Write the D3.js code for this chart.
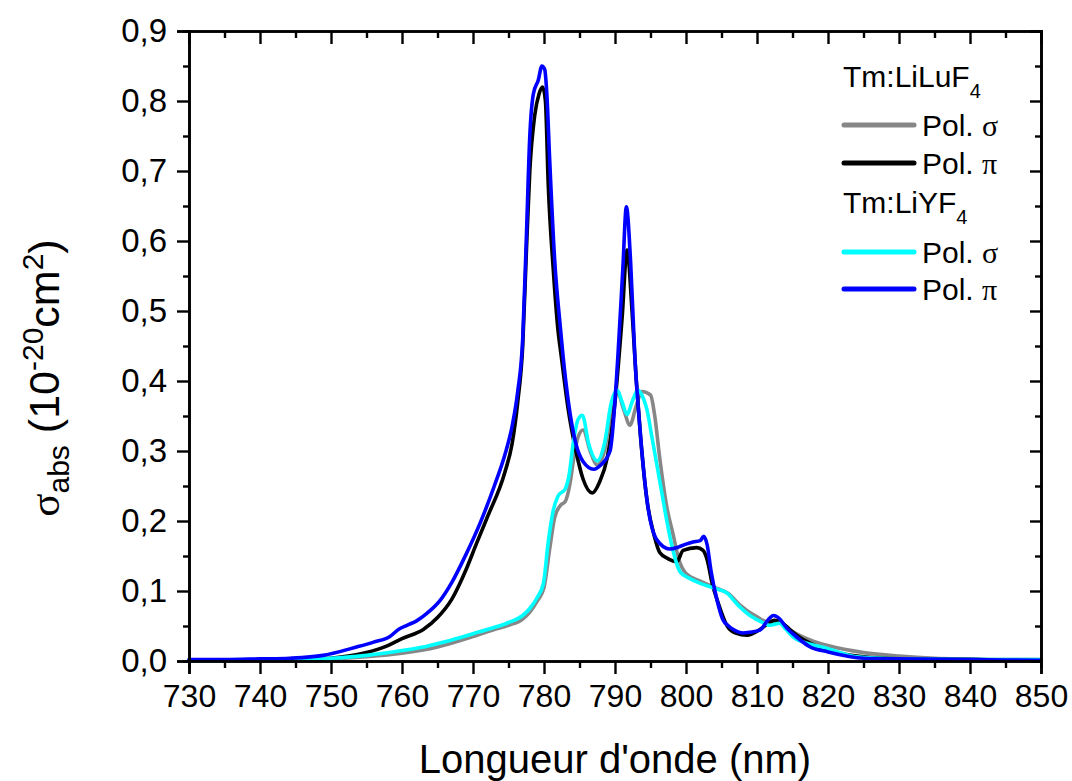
<!DOCTYPE html>
<html><head><meta charset="utf-8">
<script src="https://cdn.jsdelivr.net/npm/d3@7"></script>
<style>
html,body{margin:0;padding:0;background:#fff;}
svg{display:block;font-family:"Liberation Sans",Arial,sans-serif;}
</style></head>
<body><svg id="chart" width="1072" height="781"></svg>
<script>
// ---- data (wavelength nm, cross-section 1e-20 cm2) ----
const luSigma = [[730,0.001],[740,0.001],[750,0.003],[755,0.006],[760,0.011],[765,0.02],[770,0.035],[773,0.045],[775,0.051],[777,0.06],[778,0.07],[779,0.085],[780,0.105],[780.8,0.16],[781.5,0.205],[782.3,0.222],[783,0.228],[783.6,0.25],[784.2,0.29],[784.8,0.32],[785.5,0.33],[786.5,0.30],[787.5,0.28],[788.5,0.30],[789.5,0.36],[790.3,0.385],[791.2,0.36],[792.1,0.337],[793,0.365],[793.8,0.385],[795,0.38],[795.6,0.35],[796.3,0.29],[797.3,0.22],[798.2,0.18],[799,0.145],[800,0.125],[802,0.114],[804,0.105],[806,0.096],[807.6,0.08],[810,0.063],[812,0.054],[813.2,0.055],[815,0.042],[818,0.028],[820,0.022],[825,0.012],[830,0.007],[835,0.004],[840,0.003],[845,0.002],[850,0.002]];
const luPi = [[730,0.001],[740,0.001],[745,0.002],[750,0.004],[755,0.012],[758,0.022],[760,0.032],[763,0.045],[765,0.062],[767,0.088],[769,0.13],[770.5,0.168],[772,0.205],[774.5,0.27],[775.5,0.31],[776.3,0.37],[777,0.45],[777.5,0.58],[778,0.70],[778.7,0.78],[779.3,0.81],[779.8,0.82],[780.2,0.80],[780.6,0.68],[781.3,0.56],[781.9,0.48],[782.5,0.43],[783.4,0.36],[784.5,0.3],[785.5,0.26],[786.8,0.24],[787.8,0.255],[788.9,0.29],[790,0.37],[791,0.49],[791.7,0.587],[792.4,0.5],[793,0.4],[793.6,0.32],[794.5,0.23],[795.5,0.18],[796.3,0.155],[797.5,0.146],[798.7,0.142],[799.6,0.158],[801.5,0.162],[802.4,0.158],[803,0.144],[803.7,0.11],[804.4,0.087],[805.8,0.05],[807,0.04],[808.6,0.037],[810.4,0.045],[811.5,0.053],[812.4,0.058],[813.3,0.056],[814.5,0.046],[816,0.034],[818,0.023],[820,0.015],[825,0.006],[830,0.003],[840,0.002],[850,0.001]];
const yfSigma = [[730,0.001],[740,0.002],[750,0.004],[755,0.008],[760,0.015],[763,0.02],[765,0.025],[768,0.033],[770,0.039],[772.4,0.046],[775,0.055],[777,0.065],[778,0.075],[779,0.09],[779.9,0.11],[780.6,0.17],[781.3,0.215],[782,0.236],[783,0.246],[783.6,0.27],[784.1,0.31],[784.8,0.345],[785.4,0.351],[786.3,0.31],[787.5,0.286],[788.5,0.31],[789.5,0.37],[790.3,0.387],[791,0.37],[791.7,0.352],[792.4,0.37],[793.2,0.387],[794,0.375],[794.5,0.359],[795.2,0.32],[795.9,0.28],[796.6,0.24],[797.3,0.2],[798,0.165],[799.2,0.127],[800.5,0.118],[802,0.111],[804,0.104],[805.8,0.097],[806.7,0.087],[807.6,0.077],[809,0.065],[810,0.059],[811,0.054],[811.8,0.051],[813.2,0.054],[814,0.046],[815.1,0.034],[817.5,0.024],[819.9,0.018],[822,0.011],[824,0.006],[830,0.003],[840,0.002],[850,0.002]];
const yfPi = [[730,0.002],[735,0.002],[740,0.003],[744.2,0.004],[748.9,0.008],[753.6,0.02],[756,0.027],[758.3,0.035],[759.5,0.045],[760.7,0.051],[762,0.057],[763.5,0.068],[765.4,0.087],[767,0.112],[769,0.152],[771,0.197],[773,0.25],[774.5,0.295],[775.5,0.335],[776.3,0.385],[777,0.46],[777.5,0.6],[778,0.75],[778.5,0.81],[779.2,0.83],[779.7,0.85],[780.1,0.845],[780.4,0.81],[780.8,0.716],[781.5,0.573],[782.3,0.477],[782.7,0.434],[783.4,0.373],[784.5,0.31],[785.5,0.285],[787,0.274],[788,0.28],[789.3,0.30],[790.4,0.434],[791.1,0.56],[791.6,0.649],[792.2,0.57],[792.8,0.434],[793.5,0.334],[794.5,0.23],[795.9,0.173],[797.7,0.16],[799,0.163],[800,0.167],[801,0.17],[802,0.172],[802.5,0.178],[803,0.165],[803.5,0.13],[804.3,0.09],[805.2,0.059],[806,0.05],[807,0.043],[808,0.04],[809,0.041],[810.4,0.044],[811.5,0.058],[812.3,0.065],[813,0.062],[814.2,0.047],[815.5,0.035],[817.5,0.02],[820,0.013],[825,0.004],[830,0.003],[840,0.002],[850,0.001]];

const xMajor = [730,740,750,760,770,780,790,800,810,820,830,840,850];
const xMinor = [735,745,755,765,775,785,795,805,815,825,835,845];
const yMajor = [0,0.1,0.2,0.3,0.4,0.5,0.6,0.7,0.8,0.9];
const yMinor = [0.05,0.15,0.25,0.35,0.45,0.55,0.65,0.75,0.85];

const series = [
  {name:"luSigma", data:luSigma, color:"#878787"},
  {name:"luPi", data:luPi, color:"#000000"},
  {name:"yfSigma", data:yfSigma, color:"#00ffff"},
  {name:"yfPi", data:yfPi, color:"#0000ff"}
];

// ---- layout ----
const L=189, R=1041, T=31, B=661;
const svg = d3.select("#chart");
const x = d3.scaleLinear().domain([730,850]).range([L,R]);
const y = d3.scaleLinear().domain([0,0.9]).range([B,T]);
const fmtY = d => d.toFixed(1).replace(".", ",");

// curves
const line = d3.line().x(d=>x(d[0])).y(d=>y(d[1])).curve(d3.curveMonotoneX);
const plot = svg.append("g");
series.forEach(s=>{
  plot.append("path").datum(s.data).attr("d",line)
    .attr("fill","none").attr("stroke",s.color).attr("stroke-width",3.6)
    .attr("stroke-linejoin","round").attr("stroke-linecap","round");
});

function styleAxis(g){
  g.selectAll(".domain").attr("stroke","#000").attr("stroke-width",2.6);
  g.selectAll(".tick line").attr("stroke","#000").attr("stroke-width",2.4);
  g.selectAll("text").attr("fill","#000");
}
// bottom
const gb = svg.append("g").attr("transform",`translate(0,${B})`)
  .call(d3.axisBottom(x).tickValues(xMajor).tickSize(13).tickPadding(10).tickFormat(d3.format("d")));
gb.selectAll("text").attr("font-size",32).attr("font-family","Liberation Sans, Arial");
styleAxis(gb);
const gbm = svg.append("g").attr("transform",`translate(0,${B})`)
  .call(d3.axisBottom(x).tickValues(xMinor).tickSize(7).tickFormat(""));
styleAxis(gbm);
// top
const gt = svg.append("g").attr("transform",`translate(0,${T})`)
  .call(d3.axisTop(x).tickValues(xMajor).tickSize(-13).tickFormat(""));
styleAxis(gt);
const gtm = svg.append("g").attr("transform",`translate(0,${T})`)
  .call(d3.axisTop(x).tickValues(xMinor).tickSize(-7).tickFormat(""));
styleAxis(gtm);
// left
const gl = svg.append("g").attr("transform",`translate(${L},0)`)
  .call(d3.axisLeft(y).tickValues(yMajor).tickSize(12).tickPadding(10).tickFormat(fmtY));
gl.selectAll("text").attr("font-size",33).attr("font-family","Liberation Sans, Arial");
styleAxis(gl);
const glm = svg.append("g").attr("transform",`translate(${L},0)`)
  .call(d3.axisLeft(y).tickValues(yMinor).tickSize(6).tickFormat(""));
styleAxis(glm);
// right
const gr = svg.append("g").attr("transform",`translate(${R},0)`)
  .call(d3.axisRight(y).tickValues(yMajor).tickSize(-11).tickFormat(""));
styleAxis(gr);
const grm = svg.append("g").attr("transform",`translate(${R},0)`)
  .call(d3.axisRight(y).tickValues(yMinor).tickSize(-6).tickFormat(""));
styleAxis(grm);

// axis titles
svg.append("text").attr("x",(L+R)/2).attr("y",773).attr("text-anchor","middle")
  .attr("font-size",40).attr("fill","#000").text("Longueur d'onde (nm)");

const yt = svg.append("text").attr("transform","translate(59,378) rotate(-90)")
  .attr("text-anchor","middle").attr("font-size",43).attr("fill","#000");
yt.append("tspan").attr("font-family","Liberation Serif, serif").text("σ");
yt.append("tspan").attr("font-size",30).attr("dy",10).text("abs");
yt.append("tspan").attr("dy",-10).text(" (10");
yt.append("tspan").attr("font-size",30).attr("dy",-16).text("-20");
yt.append("tspan").attr("dy",16).text("cm");
yt.append("tspan").attr("font-size",30).attr("dy",-16).text("2");
yt.append("tspan").attr("dy",16).text(")");

// legend
const legendGroups = [
  {title:"Tm:LiLuF", sub:"4", y:87, items:[{s:series[0],label:"σ",y:125},{s:series[1],label:"π",y:163}]},
  {title:"Tm:LiYF", sub:"4", y:213, items:[{s:series[2],label:"σ",y:252},{s:series[3],label:"π",y:289}]}
];
const lg = svg.append("g");
legendGroups.forEach(gp=>{
  const t = lg.append("text").attr("x",843).attr("y",gp.y).attr("font-size",30).attr("fill","#000");
  t.append("tspan").text(gp.title);
  t.append("tspan").attr("font-size",20).attr("dy",11).text(gp.sub);
  gp.items.forEach(it=>{
    lg.append("line").attr("x1",844).attr("x2",914).attr("y1",it.y).attr("y2",it.y)
      .attr("stroke",it.s.color).attr("stroke-width",5).attr("stroke-linecap","round");
    const tt = lg.append("text").attr("x",922).attr("y",it.y+11).attr("font-size",30).attr("fill","#000");
    tt.append("tspan").text("Pol. ");
    tt.append("tspan").attr("font-family","Liberation Serif, serif").attr("font-size",30).text(it.label);
  });
});
</script></body></html>
